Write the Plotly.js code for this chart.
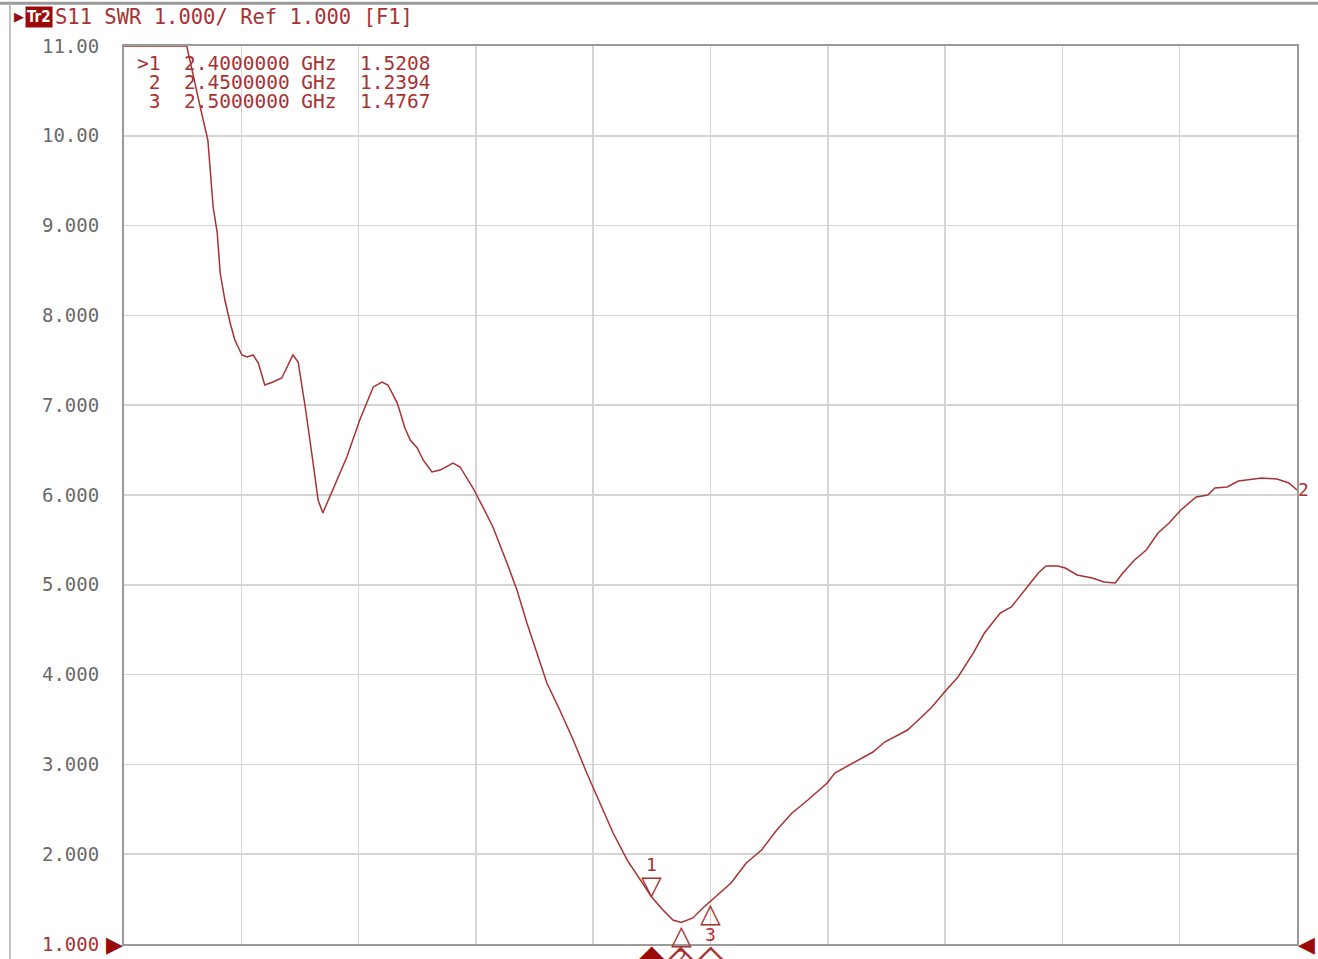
<!DOCTYPE html>
<html>
<head>
<meta charset="utf-8">
<script src="https://cdn.plot.ly/plotly-3.0.1.min.js"></script>
<style>
  html, body { margin: 0; padding: 0; background: #ffffff; }
  #chart { width: 1318px; height: 959px; }
</style>
</head>
<body>
<div id="chart"></div>
<script>
// ---- Data ----
const freqGHz = [
  1.500, 1.607, 1.630, 1.643, 1.652, 1.659, 1.664, 1.672, 1.681, 1.689,
  1.701, 1.710, 1.720, 1.729, 1.740, 1.754, 1.769, 1.778, 1.788, 1.797,
  1.809, 1.821, 1.831, 1.839, 1.856, 1.880, 1.902, 1.925, 1.940, 1.950,
  1.966, 1.979, 1.988, 2.000, 2.010, 2.025, 2.039, 2.061, 2.073, 2.087,
  2.095, 2.112, 2.129, 2.153, 2.170, 2.187, 2.204, 2.221, 2.243, 2.266,
  2.289, 2.312, 2.334, 2.358, 2.380, 2.400, 2.419, 2.436, 2.450, 2.470,
  2.487, 2.500, 2.535, 2.561, 2.587, 2.613, 2.639, 2.666, 2.699, 2.712,
  2.744, 2.777, 2.797, 2.836, 2.849, 2.876, 2.902, 2.922, 2.948, 2.967,
  2.994, 3.013, 3.040, 3.059, 3.072, 3.092, 3.105, 3.125, 3.151, 3.171,
  3.190, 3.203, 3.223, 3.243, 3.263, 3.282, 3.302, 3.328, 3.348, 3.360,
  3.381, 3.400, 3.427, 3.440, 3.466, 3.486, 3.500
];
const swr = [
  11.00, 11.00, 10.32, 9.953, 9.207, 8.918, 8.472, 8.171, 7.915, 7.726,
  7.559, 7.537, 7.559, 7.470, 7.225, 7.258, 7.303, 7.425, 7.559, 7.481,
  6.980, 6.423, 5.944, 5.800, 6.056, 6.423, 6.835, 7.203, 7.258, 7.225,
  7.024, 6.746, 6.612, 6.523, 6.390, 6.256, 6.278, 6.356, 6.312, 6.167,
  6.078, 5.866, 5.644, 5.243, 4.942, 4.575, 4.240, 3.906, 3.606, 3.272,
  2.904, 2.570, 2.236, 1.935, 1.713, 1.5208, 1.379, 1.267, 1.2394, 1.290,
  1.401, 1.4767, 1.679, 1.902, 2.047, 2.269, 2.459, 2.604, 2.793, 2.904,
  3.016, 3.138, 3.249, 3.383, 3.461, 3.628, 3.829, 3.973, 4.240, 4.463,
  4.686, 4.753, 4.976, 5.131, 5.209, 5.209, 5.187, 5.109, 5.076, 5.031,
  5.020, 5.131, 5.276, 5.388, 5.577, 5.688, 5.833, 5.978, 6.000, 6.078,
  6.089, 6.156, 6.178, 6.189, 6.178, 6.134, 6.056
];
const markerIds = [1, 2, 3];
const markerFreq = [2.40, 2.45, 2.50];
const markerSwr = [1.5208, 1.2394, 1.4767];
const yTickVals = [1, 2, 3, 4, 5, 6, 7, 8, 9, 10, 11];
const yTickText = ["1.000", "2.000", "3.000", "4.000", "5.000", "6.000", "7.000", "8.000", "9.000", "10.00", "11.00"];
const headerText = "S11 SWR 1.000/ Ref 1.000 [F1]";
const traceName = "Tr2";

// ---- Styling ----
const RED = "#a83232";
const DARK = "#9a0a0a";
const MONO = "DejaVu Sans Mono, monospace";
const NB = s => s.replace(/ /g, "\u00a0");

const xMin = freqGHz[0], xMax = freqGHz[freqGHz.length - 1];
const yMin = yTickVals[0], yMax = yTickVals[yTickVals.length - 1];

const tickText = yTickText.map((t, i) => i === 0 ? '<span style="color:' + RED + '">' + t + '</span>' : t);

const annotations = [];
// header
annotations.push({xref: "paper", yref: "paper", x: -0.0955, y: 1.0325, xanchor: "left", yanchor: "middle",
  text: "\u25B6", showarrow: false, font: {family: "DejaVu Sans", size: 13, color: DARK}});
annotations.push({xref: "paper", yref: "paper", x: -0.0845, y: 1.0325, xanchor: "left", yanchor: "middle",
  text: "<b>" + traceName + "</b>", showarrow: false, bgcolor: DARK, borderpad: 1,
  font: {family: "DejaVu Sans Condensed, DejaVu Sans", size: 15, color: "#ffffff"}});
annotations.push({xref: "paper", yref: "paper", x: -0.0605, y: 1.0325, xanchor: "left", yanchor: "middle",
  text: NB(headerText), showarrow: false, font: {family: MONO, size: 20.5, color: RED}});

// marker table
markerIds.forEach((id, i) => {
  const row = (i === 0 ? ">" : " ") + id + "  " + markerFreq[i].toFixed(7) + " GHz  " + markerSwr[i].toFixed(4);
  annotations.push({xref: "paper", yref: "paper", x: 0.0095, y: 0.9805 - i * 0.0212, xanchor: "left", yanchor: "middle",
    text: NB(row), showarrow: false, font: {family: MONO, size: 19.5, color: RED}});
});

// markers on trace
markerIds.forEach((id, i) => {
  if (i === 0) {
    annotations.push({x: markerFreq[i], y: markerSwr[i], xref: "x", yref: "y", xanchor: "center", yanchor: "bottom",
      text: "\u25BD", showarrow: false, yshift: -6, font: {family: "DejaVu Sans", size: 27, color: RED}});
    annotations.push({x: markerFreq[i], y: markerSwr[i], xref: "x", yref: "y", xanchor: "center", yanchor: "bottom",
      text: String(id), showarrow: false, yshift: 20, font: {family: MONO, size: 18, color: RED}});
  } else {
    annotations.push({x: markerFreq[i], y: markerSwr[i], xref: "x", yref: "y", xanchor: "center", yanchor: "top",
      text: "\u25B3", showarrow: false, yshift: 6, font: {family: "DejaVu Sans", size: 27, color: RED}});
    annotations.push({x: markerFreq[i], y: markerSwr[i], xref: "x", yref: "y", xanchor: "center", yanchor: "top",
      text: String(id), showarrow: false, yshift: -21, font: {family: MONO, size: 18, color: RED}});
  }
  // stimulus diamonds under the axis
  annotations.push({x: markerFreq[i], y: yMin, xref: "x", yref: "y", xanchor: "center", yanchor: "top",
    text: i === 0 ? "\u25C6" : "\u25C7", showarrow: false, yshift: 13,
    font: {family: "DejaVu Sans", size: 46, color: i === 0 ? DARK : RED}});
});

// reference level triangles
annotations.push({x: xMin, y: yMin, xref: "x", yref: "y", xanchor: "right", yanchor: "middle",
  text: "\u25B6", showarrow: false, xshift: 1, font: {family: "DejaVu Sans", size: 22, color: DARK}});
annotations.push({x: xMax, y: yMin, xref: "x", yref: "y", xanchor: "left", yanchor: "middle",
  text: "\u25C0", showarrow: false, xshift: -1, font: {family: "DejaVu Sans", size: 22, color: DARK}});
// trace number at right end
annotations.push({x: xMax, y: swr[swr.length - 1], xref: "x", yref: "y", xanchor: "left", yanchor: "middle",
  text: "2", showarrow: false, xshift: -1, font: {family: MONO, size: 18, color: RED}});

const shapes = [
  {type: "line", xref: "paper", yref: "paper", x0: -0.11, x1: 1.02, y0: 1.0475, y1: 1.0475,
   line: {color: "#9a9a9a", width: 3}},
  {type: "line", xref: "paper", yref: "paper", x0: -0.0972, x1: -0.0972, y0: 1.0475, y1: -0.02,
   line: {color: "#b0b0b0", width: 1.5}}
];

const data = [{
  x: freqGHz, y: swr, type: "scatter", mode: "lines",
  line: {color: RED, width: 1.5}, hoverinfo: "x+y"
}];

const layout = {
  width: 1318, height: 959,
  margin: {l: 124, r: 21, t: 46, b: 15, pad: 0},
  paper_bgcolor: "#ffffff", plot_bgcolor: "#ffffff",
  showlegend: false,
  xaxis: {
    range: [xMin, xMax], tick0: xMin, dtick: 0.2, showticklabels: false, ticks: "",
    showgrid: true, gridcolor: "#d4d4d4", gridwidth: 1.5, zeroline: false,
    showline: true, linecolor: "#9a9a9a", linewidth: 2, mirror: true, fixedrange: true
  },
  yaxis: {
    range: [yMin, yMax], tickvals: yTickVals, ticktext: tickText, ticks: "",
    ticklabelstandoff: 19,
    tickfont: {family: MONO, size: 19, color: "#6a6a6a"},
    showgrid: true, gridcolor: "#d4d4d4", gridwidth: 1.5, zeroline: false,
    showline: true, linecolor: "#9a9a9a", linewidth: 2, mirror: true, fixedrange: true
  },
  annotations: annotations,
  shapes: shapes
};

Plotly.newPlot("chart", data, layout, {displayModeBar: false, staticPlot: true});
</script>
</body>
</html>
